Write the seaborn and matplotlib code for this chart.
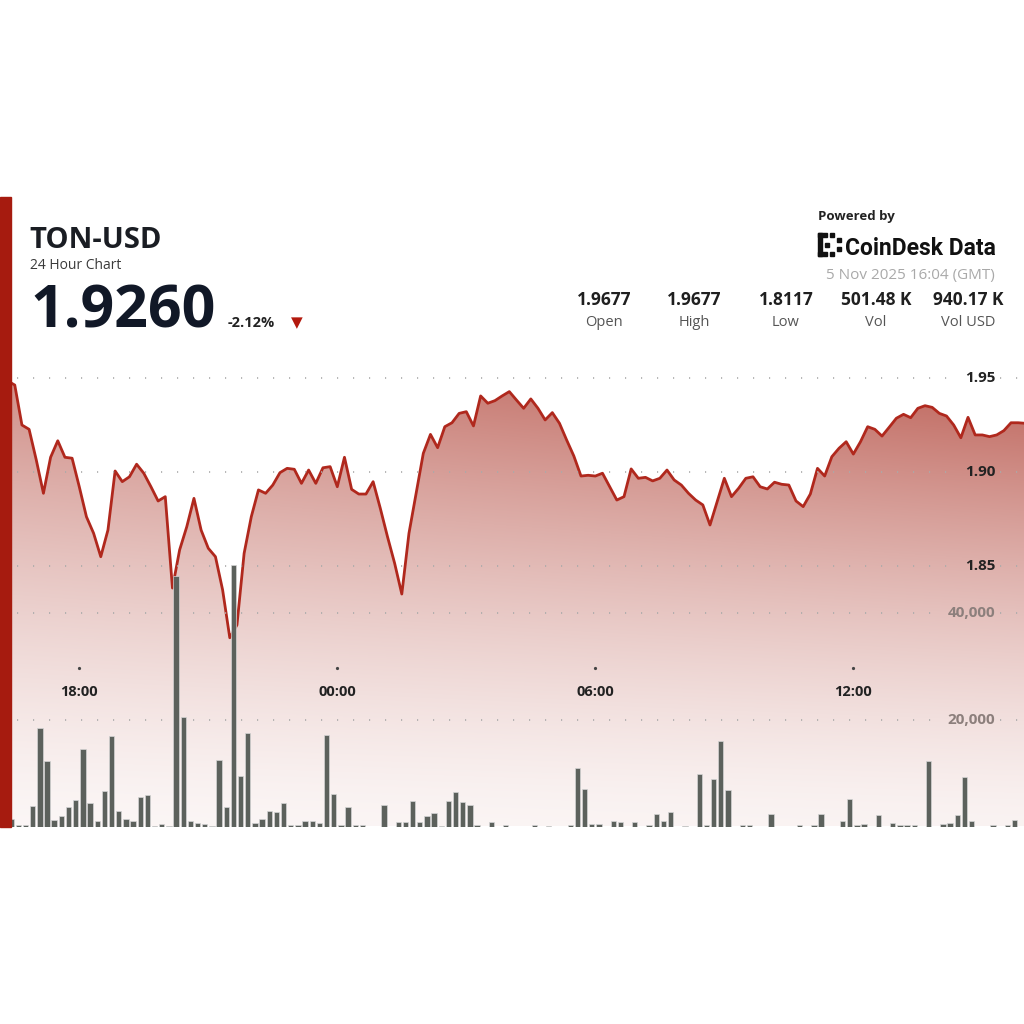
import numpy as np
import pandas as pd
import matplotlib
matplotlib.use("Agg")
import matplotlib.pyplot as plt
import matplotlib.dates as mdates
from matplotlib.patches import Rectangle
import seaborn as sns

# header texts
pair = "TON-USD"
subtitle = "24 Hour Chart"
last_price = "1.9260"
change_pct = "-2.12%"
stamp = "5 Nov 2025 16:04 (GMT)"
stat_values = ["1.9677", "1.9677", "1.8117", "501.48 K", "940.17 K"]
stat_labels = ["Open", "High", "Low", "Vol", "Vol USD"]

# price every 10 minutes
price_start = "2025-11-04 16:20"
price = [
    1.9486, 1.9464, 1.9251, 1.9228, 1.9065, 1.8887, 1.9079, 1.9167, 1.9079, 1.9074,
    1.8922, 1.8762, 1.8674, 1.8549, 1.8691, 1.9006, 1.8949, 1.8975, 1.9042, 1.8994,
    1.8922, 1.8846, 1.8869, 1.8382, 1.8585, 1.8709, 1.8860, 1.8691, 1.8594, 1.8549,
    1.8372, 1.8117, 1.8185, 1.8567, 1.8762, 1.8905, 1.8887, 1.8931, 1.8997, 1.9020,
    1.9015, 1.8940, 1.9011, 1.8940, 1.9023, 1.9029, 1.8922, 1.9079, 1.8908, 1.8883,
    1.8883, 1.8949, 1.8807, 1.8656, 1.8514, 1.8350, 1.8674, 1.8887, 1.9100, 1.9201,
    1.9130, 1.9242, 1.9263, 1.9313, 1.9322, 1.9246, 1.9406, 1.9367, 1.9381, 1.9406,
    1.9429, 1.9384, 1.9340, 1.9390, 1.9340, 1.9278, 1.9317, 1.9260, 1.9171, 1.9086,
    1.8979, 1.8983, 1.8979, 1.8994, 1.8922, 1.8851, 1.8869, 1.9017, 1.8967, 1.8972,
    1.8953, 1.8967, 1.9011, 1.8958, 1.8931, 1.8887, 1.8851, 1.8825, 1.8718, 1.8842,
    1.8967, 1.8869, 1.8914, 1.8967, 1.8975, 1.8922, 1.8910, 1.8946, 1.8935, 1.8931,
    1.8846, 1.8816, 1.8883, 1.9020, 1.8979, 1.9082, 1.9127, 1.9162, 1.9096, 1.9162,
    1.9242, 1.9228, 1.9192, 1.9239, 1.9287, 1.9308, 1.9290, 1.9340, 1.9354, 1.9345,
    1.9313, 1.9299, 1.9251, 1.9183, 1.9292, 1.9198, 1.9198, 1.9189, 1.9198, 1.9221,
    1.9263, 1.9263, 1.9260,
]

# volume per 10-minute bar
vol_start = "2025-11-04 16:25"
volume = [
    1400, 300, 300, 3900, 18400, 12300, 1250, 2000, 3600, 5000,
    14500, 4400, 950, 6600, 16900, 2900, 1400, 1050, 5600, 5900,
    150, 500, 150, 46900, 20600, 950, 650, 500, 50, 12500,
    3600, 49100, 9400, 17500, 750, 1400, 3000, 2750, 4400, 300,
    300, 1050, 1050, 750, 17100, 6100, 250, 3750, 300, 250,
    0, 0, 3950, 0, 800, 800, 4800, 800, 2050, 2500,
    100, 4700, 6400, 4550, 4050, 250, 0, 850, 0, 300,
    0, 0, 0, 250, 0, 150, 0, 0, 300, 10900,
    7000, 500, 500, 0, 1050, 800, 0, 800, 0, 250,
    2400, 1100, 2800, 0, 150, 0, 9900, 250, 8900, 16100,
    6800, 0, 250, 250, 0, 0, 2350, 0, 0, 0,
    280, 0, 200, 2300, 0, 0, 1000, 5150, 200, 470,
    0, 2250, 0, 750, 200, 200, 200, 0, 12300, 0,
    530, 720, 2150, 9350, 1100, 0, 0, 280, 0, 200,
    1230, 0,
]

price_ticks = [1.85, 1.90, 1.95]
vol_ticks = [20000, 40000]
time_ticks = ["2025-11-04 18:00", "2025-11-05 00:00", "2025-11-05 06:00", "2025-11-05 12:00"]
time_labels = ["18:00", "00:00", "06:00", "12:00"]

t_price = pd.date_range(price_start, periods=len(price), freq="10min")
t_vol = pd.date_range(vol_start, periods=len(volume), freq="10min")
df = pd.DataFrame({"time": t_price, "price": price})

sns.set_style("white")
plt.rcParams["font.family"] = ["Open Sans", "DejaVu Sans"]

W = H = 1024
fig = plt.figure(figsize=(10.24, 10.24), dpi=100)
fig.patch.set_facecolor("white")

def fx(px):
    return px / W

def fy(px):
    return 1 - px / H

ax = fig.add_axes([0, fy(826.5), 1, (826.5 - 360) / H])
ax2 = ax.twinx()

x_lo = pd.Timestamp("2025-11-04 16:09:24")
x_hi = pd.Timestamp("2025-11-05 15:58:06")
p_lo, p_hi = 1.71109, 1.95975
v_hi = 87500

# price line
sns.lineplot(data=df, x="time", y="price", ax=ax, color="#b0281d", linewidth=2.0, zorder=3)

# gradient fill under the line
gh, gw = 300, 400
f = np.linspace(1, 0, gh)[:, None]
s = np.clip(f * 1.046, 0, 1)
a = (0.06 + 0.69 * s ** 1.4) * (0.72 + 0.28 * np.linspace(0, 1, gw)[None, :])
base = np.array([0.66, 0.19, 0.14])
img = np.ones((gh, gw, 3)) - a[..., None] * (1 - base[None, None, :])
im = ax.imshow(img, extent=[mdates.date2num(x_lo), mdates.date2num(x_hi), p_lo, p_hi],
               aspect="auto", origin="upper", interpolation="bilinear", zorder=1)
poly = ax.fill_between(t_price, price, p_lo, facecolor="none", edgecolor="none")
im.set_clip_path(poly.get_paths()[0], transform=ax.transData)

# volume bars
ax2.bar(t_vol, volume, width=7.5 / 1440, color="#5c615c", edgecolor="#d5d5d5",
        linewidth=0.5, zorder=2)

ax.set_xlim(x_lo, x_hi)
ax.set_ylim(p_lo, p_hi)
ax2.set_ylim(0, v_hi)
for a_ in (ax, ax2):
    a_.set_axis_off()

dots = dict(color="#aaaaaa", linewidth=1.2, linestyle=(0, (0.7, 8.9)))
for p in price_ticks:
    ax.axhline(p, xmin=fx(17), xmax=fx(958), zorder=4, **dots)
    ax.axhline(p, xmin=fx(1000), xmax=1, zorder=4, **dots)
    ax.text(fx(995), p, f"{p:.2f}", transform=ax.get_yaxis_transform(), ha="right",
            va="center", fontsize=11, fontweight="bold", color="#222222", zorder=5)
for v in vol_ticks:
    ax2.axhline(v, xmin=fx(17), xmax=fx(940), zorder=0.5, **dots)
    ax2.axhline(v, xmin=fx(1000), xmax=1, zorder=0.5, **dots)
    ax2.text(fx(995), v, f"{v:,}", transform=ax2.get_yaxis_transform(), ha="right",
             va="center", fontsize=11, fontweight="bold", color="#8c7f7c", zorder=5)

for t, lab in zip(time_ticks, time_labels):
    tx = mdates.date2num(pd.Timestamp(t))
    ax.text(tx, (826.5 - 692) / 466.5, lab, transform=ax.get_xaxis_transform(),
            ha="center", va="center", fontsize=10.5, fontweight="bold", color="#222222", zorder=5)
    ax.plot([tx], [(826.5 - 668) / 466.5], marker="o", markersize=1.3, color="#444444",
            transform=ax.get_xaxis_transform(), zorder=5)

# left red strip
fig.add_artist(Rectangle((0, fy(826.5)), fx(11), (826.5 - 197) / H,
                         transform=fig.transFigure, color="#a61b0f", zorder=10))

# header left
fig.text(fx(29), fy(248.5), pair, fontsize=21, fontweight="bold", color="#1a1d23", va="baseline")
fig.text(fx(30), fy(269), subtitle, fontsize=10, color="#3a3a3a", va="baseline")
fig.text(fx(30), fy(327), last_price, fontsize=42.5, fontweight="bold", color="#111827", va="baseline")
fig.text(fx(228), fy(327), change_pct, fontsize=10.5, fontweight="bold", color="#222222", va="baseline")
fig.text(fx(296.5), fy(322.5), "▼", fontsize=11, color="#b3190d", ha="center", va="center",
         family="DejaVu Sans")

# header right
fig.text(fx(818), fy(220), "Powered by", fontsize=9.5, fontweight="bold", color="#222222", va="baseline")
fig.text(fx(845), fy(255), "CoinDesk Data", fontsize=16.5, fontweight="bold", color="#111111",
         va="baseline", family="Roboto")

def px_rect(x0, y0, x1, y1):
    fig.add_artist(Rectangle((fx(x0), fy(y1)), fx(x1 - x0), (y1 - y0) / H,
                             transform=fig.transFigure, color="#111111", zorder=10))

px_rect(818, 233, 821.5, 256)
px_rect(818, 233, 827, 237)
px_rect(818, 252, 827, 256)
px_rect(830, 233, 834, 237)
px_rect(830, 252, 834, 256)
px_rect(825, 242.5, 829, 246.5)
px_rect(837, 238, 841, 242)
px_rect(837, 247, 841, 251)

fig.text(fx(995), fy(279), stamp, fontsize=11, color="#a9a9a9", ha="right", va="baseline")

stat_x = [604, 694, 786, 876, 968]
for xc, val, lab in zip(stat_x, stat_values, stat_labels):
    fig.text(fx(xc), fy(305), val, fontsize=12.5, fontweight="bold", color="#1f1f1f",
             ha="center", va="baseline")
    fig.text(fx(xc), fy(326), lab, fontsize=10.5, color="#555555", ha="center", va="baseline")

fig.savefig("out.png", dpi=100, facecolor="white")
